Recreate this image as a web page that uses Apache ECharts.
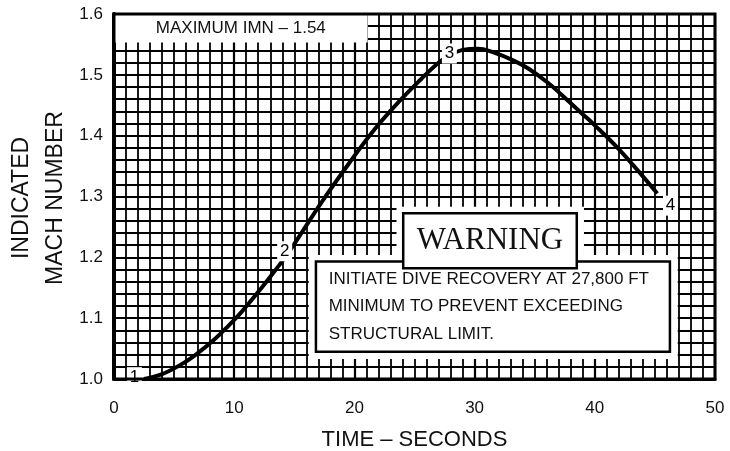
<!DOCTYPE html>
<html>
<head>
<meta charset="utf-8">
<script src="https://cdn.jsdelivr.net/npm/echarts@6/dist/echarts.min.js"></script>
<style>html,body{margin:0;padding:0;background:#fff;}#c{width:730px;height:451px;}</style>
</head>
<body>
<div id="c"></div>
<script>
// Data
const timeSec = [2.5, 4, 5.6, 7, 8.3, 9.5, 10.6, 12.2, 13.7, 14.2, 15.2, 17.25, 19.5, 21.7, 23.9, 25.5, 27, 28, 29, 30.3, 31.4, 33.3, 34.5, 36.1, 37.25, 38.9, 40, 41.7, 43.3, 45.2];
const machNumber = [1.0, 1.008, 1.024, 1.043, 1.064, 1.087, 1.11, 1.148, 1.186, 1.199, 1.228, 1.29, 1.353, 1.411, 1.46, 1.492, 1.52, 1.533, 1.541, 1.543, 1.538, 1.523, 1.51, 1.487, 1.467, 1.437, 1.417, 1.384, 1.349, 1.305];
const pointLabels = ['1', '2', '3', '4'];
const pointTime = [1.7, 14.2, 27.9, 46.3];
const pointMach = [1.003, 1.21, 1.535, 1.285];
const xTicks = [0, 10, 20, 30, 40, 50];
const yTicks = [1.0, 1.1, 1.2, 1.3, 1.4, 1.5, 1.6];
const yTitle = 'INDICATED\nMACH NUMBER';
const maxNote = 'MAXIMUM IMN \u2013 1.54';
const warningTitle = 'WARNING';
const warningLines = ['INITIATE DIVE RECOVERY AT 27,800 FT', 'MINIMUM TO PREVENT EXCEEDING', 'STRUCTURAL LIMIT.'];

const SANS = '"Liberation Sans", Arial, sans-serif';
const chart = echarts.init(document.getElementById('c'), null, {renderer: 'canvas'});
const curve = timeSec.map((t, i) => [t, machNumber[i]]);
const pts = pointLabels.map((l, i) => ({value: [pointTime[i], pointMach[i]], name: l}));

chart.setOption({
  animation: false,
  backgroundColor: '#fff',
  grid: {left: 114, right: 15, top: 14, bottom: 72, containLabel: false, outerBoundsMode: 'none',
         show: true, borderColor: '#000', borderWidth: 3, backgroundColor: 'transparent', z: 10},
  graphic: [{
    type: 'text', x: 39, y: 198, rotation: Math.PI / 2,
    style: {text: yTitle, font: '23px "Liberation Sans", Arial, sans-serif', fill: '#111',
            align: 'center', verticalAlign: 'middle', lineHeight: 34}
  }],
  xAxis: {
    type: 'value', min: xTicks[0], max: xTicks[xTicks.length - 1], interval: 10,
    name: 'TIME \u2013 SECONDS', nameLocation: 'middle', nameGap: 50,
    nameTextStyle: {fontFamily: SANS, fontSize: 22, color: '#111'},
    axisLine: {show: true, lineStyle: {color: '#000', width: 3}},
    axisTick: {show: false},
    minorTick: {show: false, splitNumber: 10},
    axisLabel: {fontFamily: SANS, fontSize: 17, color: '#111', margin: 21},
    splitLine: {show: true, lineStyle: {color: '#000', width: 2.2}},
    minorSplitLine: {show: true, lineStyle: {color: '#000', width: 1.8}}
  },
  yAxis: {
    type: 'value', min: yTicks[0], max: yTicks[yTicks.length - 1], interval: 0.1,
    axisLine: {show: true, lineStyle: {color: '#000', width: 4}},
    axisTick: {show: false},
    minorTick: {show: false, splitNumber: 5},
    axisLabel: {fontFamily: SANS, fontSize: 17, color: '#111', margin: 11, formatter: v => v.toFixed(1)},
    splitLine: {show: true, lineStyle: {color: '#000', width: 2.2}},
    minorSplitLine: {show: true, lineStyle: {color: '#000', width: 1.8}}
  },
  series: [
    {
      type: 'line', data: curve, smooth: 0.4, symbol: 'none',
      lineStyle: {color: '#000', width: 4}, z: 3,
      markArea: {
        silent: true,
        data: [
          [{xAxis: 0, yAxis: 1.553, itemStyle: {color: '#fff', borderWidth: 0},
            label: {show: true, position: 'inside', formatter: maxNote, fontFamily: SANS, fontSize: 17, color: '#111'}},
           {xAxis: 21.1, yAxis: 1.6}],
          [{xAxis: 16.2, yAxis: 1.033, itemStyle: {color: '#fff', borderWidth: 0}, label: {show: false}},
           {xAxis: 46.9, yAxis: 1.204}],
          [{xAxis: 23.5, yAxis: 1.175, itemStyle: {color: '#fff', borderWidth: 0}, label: {show: false}},
           {xAxis: 39.1, yAxis: 1.283}],
          [{xAxis: 16.8, yAxis: 1.045, itemStyle: {color: '#fff', borderColor: '#000', borderWidth: 2.5},
            label: {show: true, position: 'insideLeft', distance: 14, formatter: warningLines.join('\n'), fontFamily: SANS, fontSize: 17, lineHeight: 27.5, color: '#111', align: 'left'}},
           {xAxis: 46.25, yAxis: 1.193}],
          [{xAxis: 24.06, yAxis: 1.182, itemStyle: {color: '#fff', borderColor: '#000', borderWidth: 2.5},
            label: {show: true, position: 'inside', formatter: warningTitle, fontFamily: '"Liberation Serif", "Times New Roman", serif', fontSize: 31, color: '#111'}},
           {xAxis: 38.5, yAxis: 1.2725}]
        ]
      }
    },
    {
      type: 'scatter', data: pts, symbol: 'rect', symbolSize: [15, 20], z: 6,
      itemStyle: {color: '#fff', opacity: 1},
      label: {show: true, position: 'inside', formatter: p => p.name, fontFamily: SANS, fontSize: 17, color: '#000', textBorderWidth: 0}
    }
  ]
});
</script>
</body>
</html>
